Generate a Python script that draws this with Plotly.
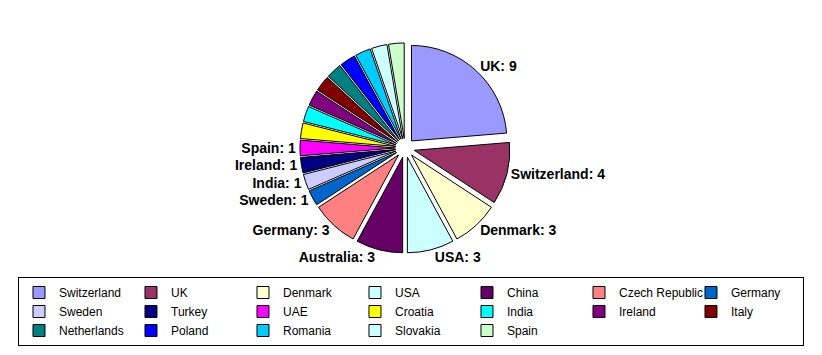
import plotly.graph_objects as go

# ---- data ----
countries = ["Switzerland", "UK", "Denmark", "USA", "China", "Czech Republic", "Germany",
             "Sweden", "Turkey", "UAE", "Croatia", "India", "Ireland", "Italy",
             "Netherlands", "Poland", "Romania", "Slovakia", "Spain"]
counts = [9, 4, 3, 3, 3, 3, 1, 1, 1, 1, 1, 1, 1, 1, 1, 1, 1, 1, 1]
slice_labels = ["UK: 9", "Switzerland: 4", "Denmark: 3", "USA: 3", "Australia: 3",
                "Germany: 3", "Sweden: 1", "India: 1", "Ireland: 1", "Spain: 1",
                "", "", "", "", "", "", "", "", ""]
colors = ["#9999FF", "#993366", "#FFFFCC", "#CCFFFF", "#660066", "#FF8080", "#0066CC",
          "#CCCCFF", "#000080", "#FF00FF", "#FFFF00", "#00FFFF", "#800080", "#800000",
          "#008080", "#0000FF", "#00CCFF", "#CCFFFF", "#CCFFCC"]

fig = go.Figure()
fig.add_trace(go.Pie(
    labels=countries,
    values=counts,
    text=slice_labels,
    textinfo="text",
    textposition="outside",
    textfont=dict(family="Liberation Sans, Arial, sans-serif", size=14, color="black", weight="bold"),
    marker=dict(colors=colors, line=dict(color="black", width=1)),
    sort=False,
    direction="clockwise",
    rotation=0,
    pull=[0.1] * len(counts),
    hoverinfo="label+value",
    automargin=False,
    domain=dict(x=[0.0, 0.9627], y=[0.0866, 0.845]),
))

fig.update_layout(
    width=822, height=355,
    margin=dict(l=18, r=0, t=0, b=78, autoexpand=False),
    paper_bgcolor="white",
    plot_bgcolor="white",
    showlegend=True,
    legend=dict(
        orientation="h",
        x=-0.00001, xanchor="left",
        y=-0.00001, yanchor="top",
        bordercolor="black", borderwidth=1,
        bgcolor="white",
        entrywidth=67, entrywidthmode="pixels",
        font=dict(family="Liberation Sans, Arial, sans-serif", size=12, color="black"),
        traceorder="normal",
    ),
)

fig.write_html("out.html")
